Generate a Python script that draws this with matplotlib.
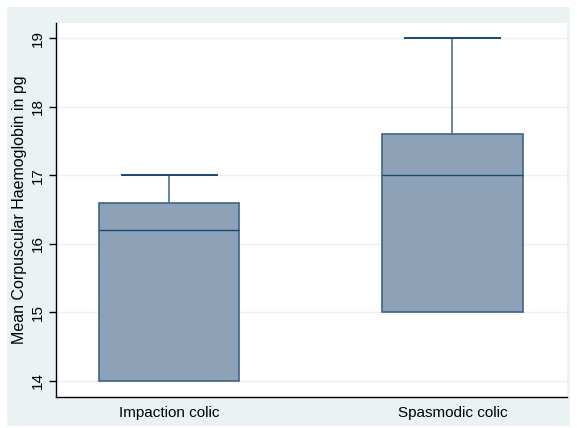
import matplotlib.pyplot as plt
from matplotlib.patches import Rectangle

plt.rcParams['font.family'] = ['Liberation Sans', 'DejaVu Sans']

groups = ['Impaction colic', 'Spasmodic colic']
lower_whisker = [14.0, 15.0]
q1 = [14.0, 15.0]
median = [16.2, 17.0]
q3 = [16.6, 17.6]
upper_whisker = [17.0, 19.0]
yticks = [14, 15, 16, 17, 18, 19]

fig = plt.figure(figsize=(5.77, 4.28), dpi=100, facecolor='white')
# stata style outer background
fig.patches.append(Rectangle((7 / 577, 2 / 428), 563 / 577, 419 / 428,
                             transform=fig.transFigure, facecolor='#EAF2F3',
                             edgecolor='none', zorder=-10))
ax = fig.add_axes([56 / 577, 31.3 / 428, 511 / 577, 373.7 / 428])
ax.set_facecolor('white')

stats = []
for i, g in enumerate(groups):
    stats.append({'label': g, 'whislo': lower_whisker[i], 'q1': q1[i],
                  'med': median[i], 'q3': q3[i], 'whishi': upper_whisker[i],
                  'fliers': []})

navy = '#1A476F'
bp = ax.bxp(stats, positions=[1, 2], widths=0.495, patch_artist=True,
            showfliers=False,
            boxprops=dict(facecolor='#8DA2B7', edgecolor='#3E6388', linewidth=1.2),
            medianprops=dict(color=navy, linewidth=1.0),
            whiskerprops=dict(color='#4B6E91', linewidth=1.2),
            capprops=dict(color=navy, linewidth=1.4),
            capwidths=0.335)
# lower caps sit on the box edge here, hide them
for cap in bp['caps'][0::2]:
    cap.set_visible(False)

ax.set_xlim(0.601, 2.404)
ax.set_ylim(13.77, 19.22)
ax.set_yticks(yticks)
ax.set_yticklabels([str(t) for t in yticks], rotation=90, va='center')
ax.yaxis.grid(True, color='#EAF2F3', linewidth=1.0)
ax.set_axisbelow(True)
ax.tick_params(axis='y', length=5, width=1, labelsize=11, pad=3)
ax.tick_params(axis='x', length=0, labelsize=11, pad=7)
ax.set_ylabel('Mean Corpuscular Haemoglobin in pg', fontsize=11.5, labelpad=3)

for s in ['top', 'right']:
    ax.spines[s].set_visible(False)
for s in ['left', 'bottom']:
    ax.spines[s].set_color('black')
    ax.spines[s].set_linewidth(1.0)

fig.savefig('out.png', dpi=100, facecolor='white')
